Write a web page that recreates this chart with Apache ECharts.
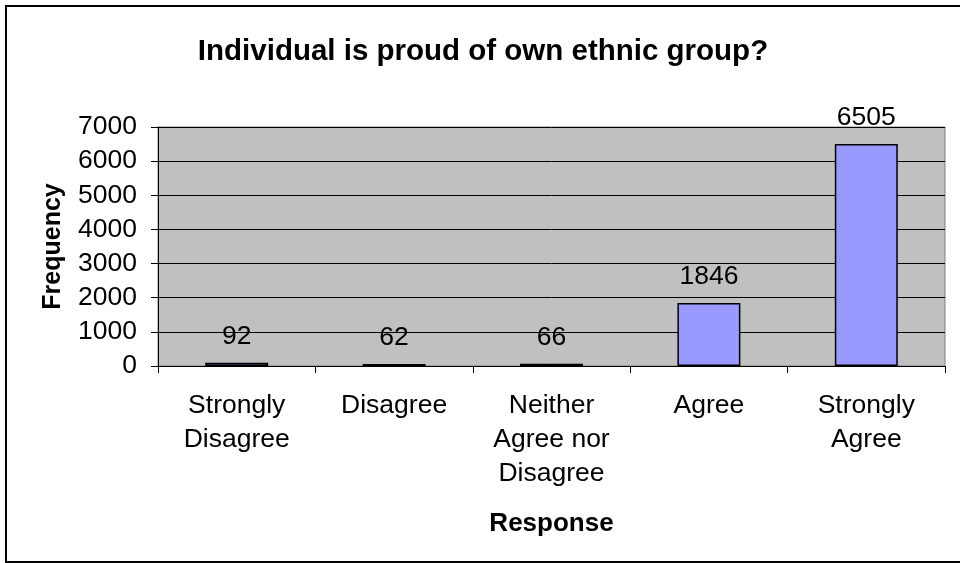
<!DOCTYPE html>
<html>
<head>
<meta charset="utf-8">
<script src="https://cdn.jsdelivr.net/npm/echarts@6/dist/echarts.min.js"></script>
<style>
  html, body { margin: 0; padding: 0; background: #fff; }
  #chart { width: 960px; height: 563px; }
</style>
</head>
<body>
<div id="chart"></div>
<script>
// response categories and counts
const categories = ['Strongly\nDisagree', 'Disagree', 'Neither\nAgree nor\nDisagree', 'Agree', 'Strongly\nAgree']
const frequencies = [92, 62, 66, 1846, 6505]
const yTicks = { min: 0, max: 7000, interval: 1000 }

const font = '"Liberation Sans", Arial, sans-serif'
const chart = echarts.init(document.getElementById('chart'))

const option = {
    backgroundColor: '#fff',
    animation: false,
    title: {
        text: 'Individual is proud of own ethnic group?',
        left: 478,
        textAlign: 'center',
        top: 32,
        textStyle: { fontFamily: font, fontSize: 29.5, fontWeight: 'bold', color: '#000' }
    },
    graphic: [
        {
            type: 'rect',
            shape: { x: 6, y: 6, width: 970, height: 556 },
            style: { fill: 'none', stroke: '#000', lineWidth: 2 },
            silent: true
        }
    ],
    grid: {
        left: 158,
        right: 15,
        top: 127,
        bottom: 197,
        show: true,
        backgroundColor: '#c0c0c0',
        borderColor: '#808080',
        borderWidth: 1
    },
    xAxis: {
        type: 'category',
        data: categories,
        name: 'Response',
        nameLocation: 'middle',
        nameGap: 145,
        nameTextStyle: { fontFamily: font, fontSize: 26, fontWeight: 'bold', color: '#000' },
        axisLine: { lineStyle: { color: '#000', width: 1 } },
        axisTick: { show: true, length: 7, lineStyle: { color: '#000' } },
        axisLabel: {
            fontFamily: font,
            fontSize: 26.5,
            color: '#000',
            margin: 23,
            lineHeight: 34,
            interval: 0
        }
    },
    yAxis: {
        type: 'value',
        min: yTicks.min,
        max: yTicks.max,
        interval: yTicks.interval,
        name: 'Frequency',
        nameLocation: 'middle',
        nameGap: 92,
        nameTextStyle: { fontFamily: font, fontSize: 25, fontWeight: 'bold', color: '#000' },
        axisLine: { show: true, lineStyle: { color: '#000', width: 1 } },
        axisTick: { show: true, length: 7, lineStyle: { color: '#000' } },
        axisLabel: {
            fontFamily: font,
            fontSize: 26.5,
            color: '#000',
            margin: 21,
            formatter: v => String(v)
        },
        splitLine: { show: true, lineStyle: { color: '#000', width: 1 } }
    },
    series: [
        {
            type: 'bar',
            data: frequencies,
            barWidth: '40%',
            itemStyle: { color: '#9999ff', borderColor: '#000', borderWidth: 1.5 },
            label: {
                show: true,
                position: 'top',
                distance: 13,
                fontFamily: font,
                fontSize: 26.5,
                color: '#000'
            }
        }
    ]
}
chart.setOption(option)
</script>
</body>
</html>
